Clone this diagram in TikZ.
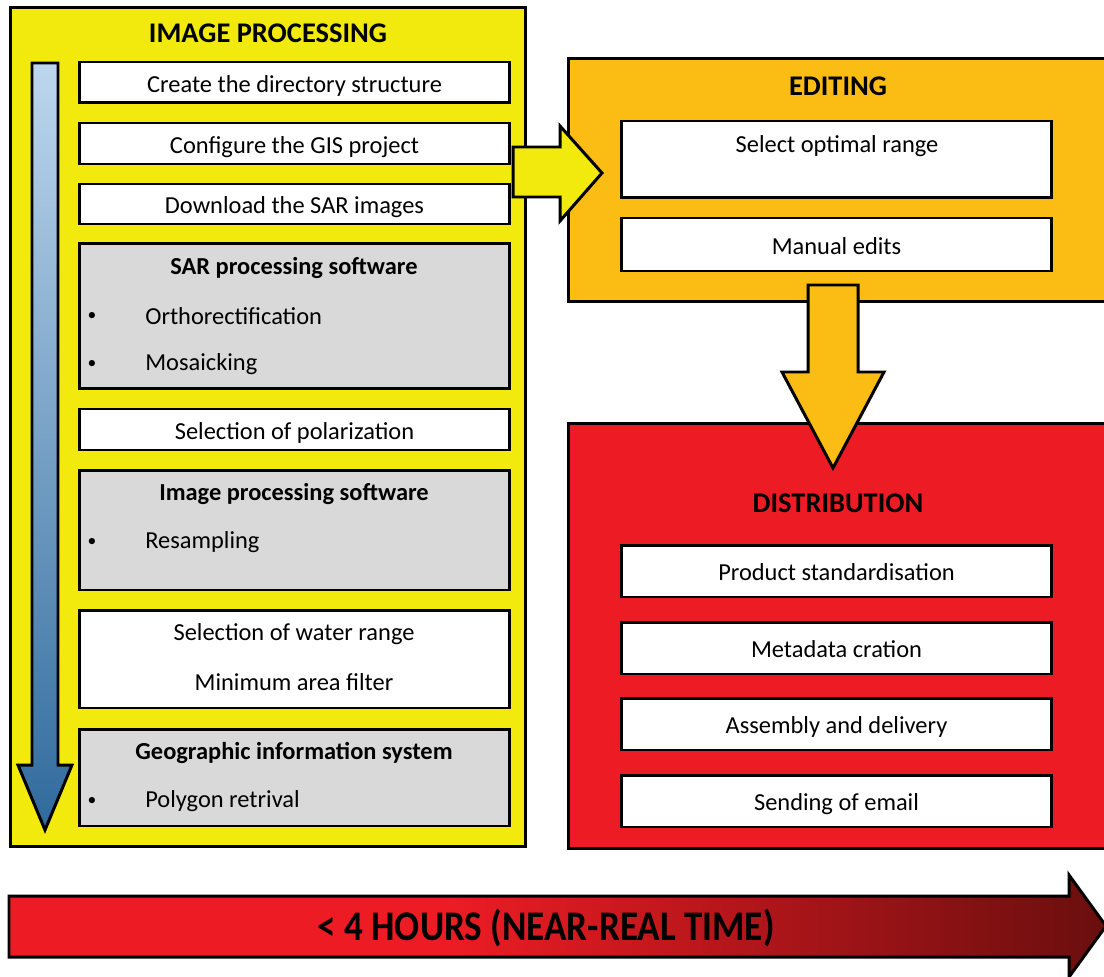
\documentclass[tikz,border=0pt]{standalone}
\usepackage{fontspec}
\setmainfont{Carlito}
\usetikzlibrary{calc}
\definecolor{ipyellow}{HTML}{F2EA0C}
\definecolor{edorange}{HTML}{FBBC14}
\definecolor{disred}{HTML}{ED1C24}
\definecolor{swgray}{HTML}{D9D9D9}
\definecolor{flowtop}{HTML}{BDD7EE}
\definecolor{flowbot}{HTML}{2F6A9C}
\definecolor{timedark}{HTML}{6A0E0E}
\pgfdeclarehorizontalshading{timebar}{100bp}{color(0bp)=(disred); color(45bp)=(disred); color(75bp)=(timedark); color(100bp)=(timedark)}

\begin{document}
\begin{tikzpicture}[x=0.02cm, y=-0.02cm, line width=1.7pt,
    panel/.style={draw, inner sep=0pt},
    stepbox/.style={draw, fill=white, inner sep=0pt, minimum width=8.62cm, text height=12.5pt, text depth=1.4pt, font=\fontsize{13.9}{16}\selectfont},
    swbox/.style={draw, fill=swgray, inner sep=0pt, minimum width=8.62cm},
    steptext/.style={font=\fontsize{13.9}{16}\selectfont},
    swtitle/.style={font=\bfseries\fontsize{13.9}{16}\selectfont},
    item/.style={anchor=west, font=\fontsize{13.9}{16}\selectfont},
    dot/.style={font=\fontsize{10}{11}\selectfont},
    title/.style={font=\bfseries\fontsize{16.2}{19}\selectfont}]
  \useasboundingbox (0,0) rectangle (1104,976);

  % image processing
  \node[panel, fill=ipyellow, minimum width=10.32cm, minimum height=16.8cm] (ip) at (268,427) {};
  \node[title] (iptitle) at (268,33) {IMAGE PROCESSING};
  \draw[top color=flowtop, bottom color=flowbot]
    (32,63) -- (58,63) -- (58,765) -- (72,765) -- (45,830) -- (18,765) -- (32,765) -- cycle;

  \node[stepbox, minimum height=0.82cm] (dirs) at (294.5,82.5) {Create the directory structure};
  \node[stepbox, minimum height=0.82cm] (gisproj) at (294.5,143.5) {Configure the GIS project};
  \node[stepbox, minimum height=0.80cm] (download) at (294.5,204) {Download the SAR images};

  \node[swbox, minimum height=2.92cm] (sarsw) at (294.5,316) {};
  \node[swtitle] (sartitle) at (294,268) {SAR processing software};
  \node[dot] (b1) at (92,316) {\textbullet};
  \node[item] (ortho) at (138,316) {Orthorectification};
  \node[dot] (b2) at (92,364) {\textbullet};
  \node[item] (mosaic) at (138,364) {Mosaicking};

  \node[stepbox, minimum height=0.82cm] (polar) at (294.5,429.5) {Selection of polarization};

  \node[swbox, minimum height=2.40cm] (imgsw) at (294.5,530) {};
  \node[swtitle] (imgtitle) at (294,494) {Image processing software};
  \node[dot] (b3) at (92,542) {\textbullet};
  \node[item] (resamp) at (138,542) {Resampling};

  \node[stepbox, minimum height=1.96cm] (water) at (294.5,659) {};
  \node[steptext] (wrange) at (294,634) {Selection of water range};
  \node[steptext] (minarea) at (294,682) {Minimum area filter};

  \node[swbox, minimum height=1.94cm] (gissw) at (294.5,777.5) {};
  \node[swtitle] (gistitle) at (294,753) {Geographic information system};
  \node[dot] (b4) at (92,801) {\textbullet};
  \node[item] (polygon) at (138,801) {Polygon retrival};

  % editing
  \node[panel, fill=edorange, minimum width=10.88cm, minimum height=4.88cm] (edit) at (840,180) {};
  \node[title] (edtitle) at (838,86) {EDITING};
  \node[stepbox, minimum height=1.54cm] (optrange) at (836.5,159.5) {};
  \node[steptext] (opttext) at (837,146) {Select optimal range};
  \node[stepbox, minimum height=1.06cm] (manual) at (836.5,244.5) {Manual edits};

  % distribution
  \node[panel, fill=disred, minimum width=10.88cm, minimum height=8.52cm] (dist) at (840,636) {};
  \node[title] (distitle) at (838,503) {DISTRIBUTION};
  \node[stepbox, minimum height=1.04cm] (standard) at (836.5,571) {Product standardisation};
  \node[stepbox, minimum height=1.04cm] (meta) at (836.5,648) {Metadata cration};
  \node[stepbox, minimum height=1.04cm] (assembly) at (836.5,724) {Assembly and delivery};
  \node[stepbox, minimum height=1.04cm] (email) at (836.5,801) {Sending of email};

  % block arrows between stages
  \draw[fill=ipyellow]
    (513,147) -- (560,147) -- (560,126) -- (602,173) -- (560,221) -- (560,197) -- (513,197) -- cycle;
  \draw[fill=edorange]
    (808,285) -- (858,285) -- (858,372) -- (884,372) -- (833,468) -- (782,372) -- (808,372) -- cycle;

  % time bar
  \draw[shading=timebar]
    (9,896) -- (1069,896) -- (1069,875) -- (1106,926) -- (1069,977) -- (1069,957) -- (9,957) -- cycle;
  \node[font=\bfseries\fontsize{24}{28}\selectfont, xscale=0.88] (time) at (546,928) {< 4 HOURS (NEAR-REAL TIME)};
\end{tikzpicture}
\end{document}
